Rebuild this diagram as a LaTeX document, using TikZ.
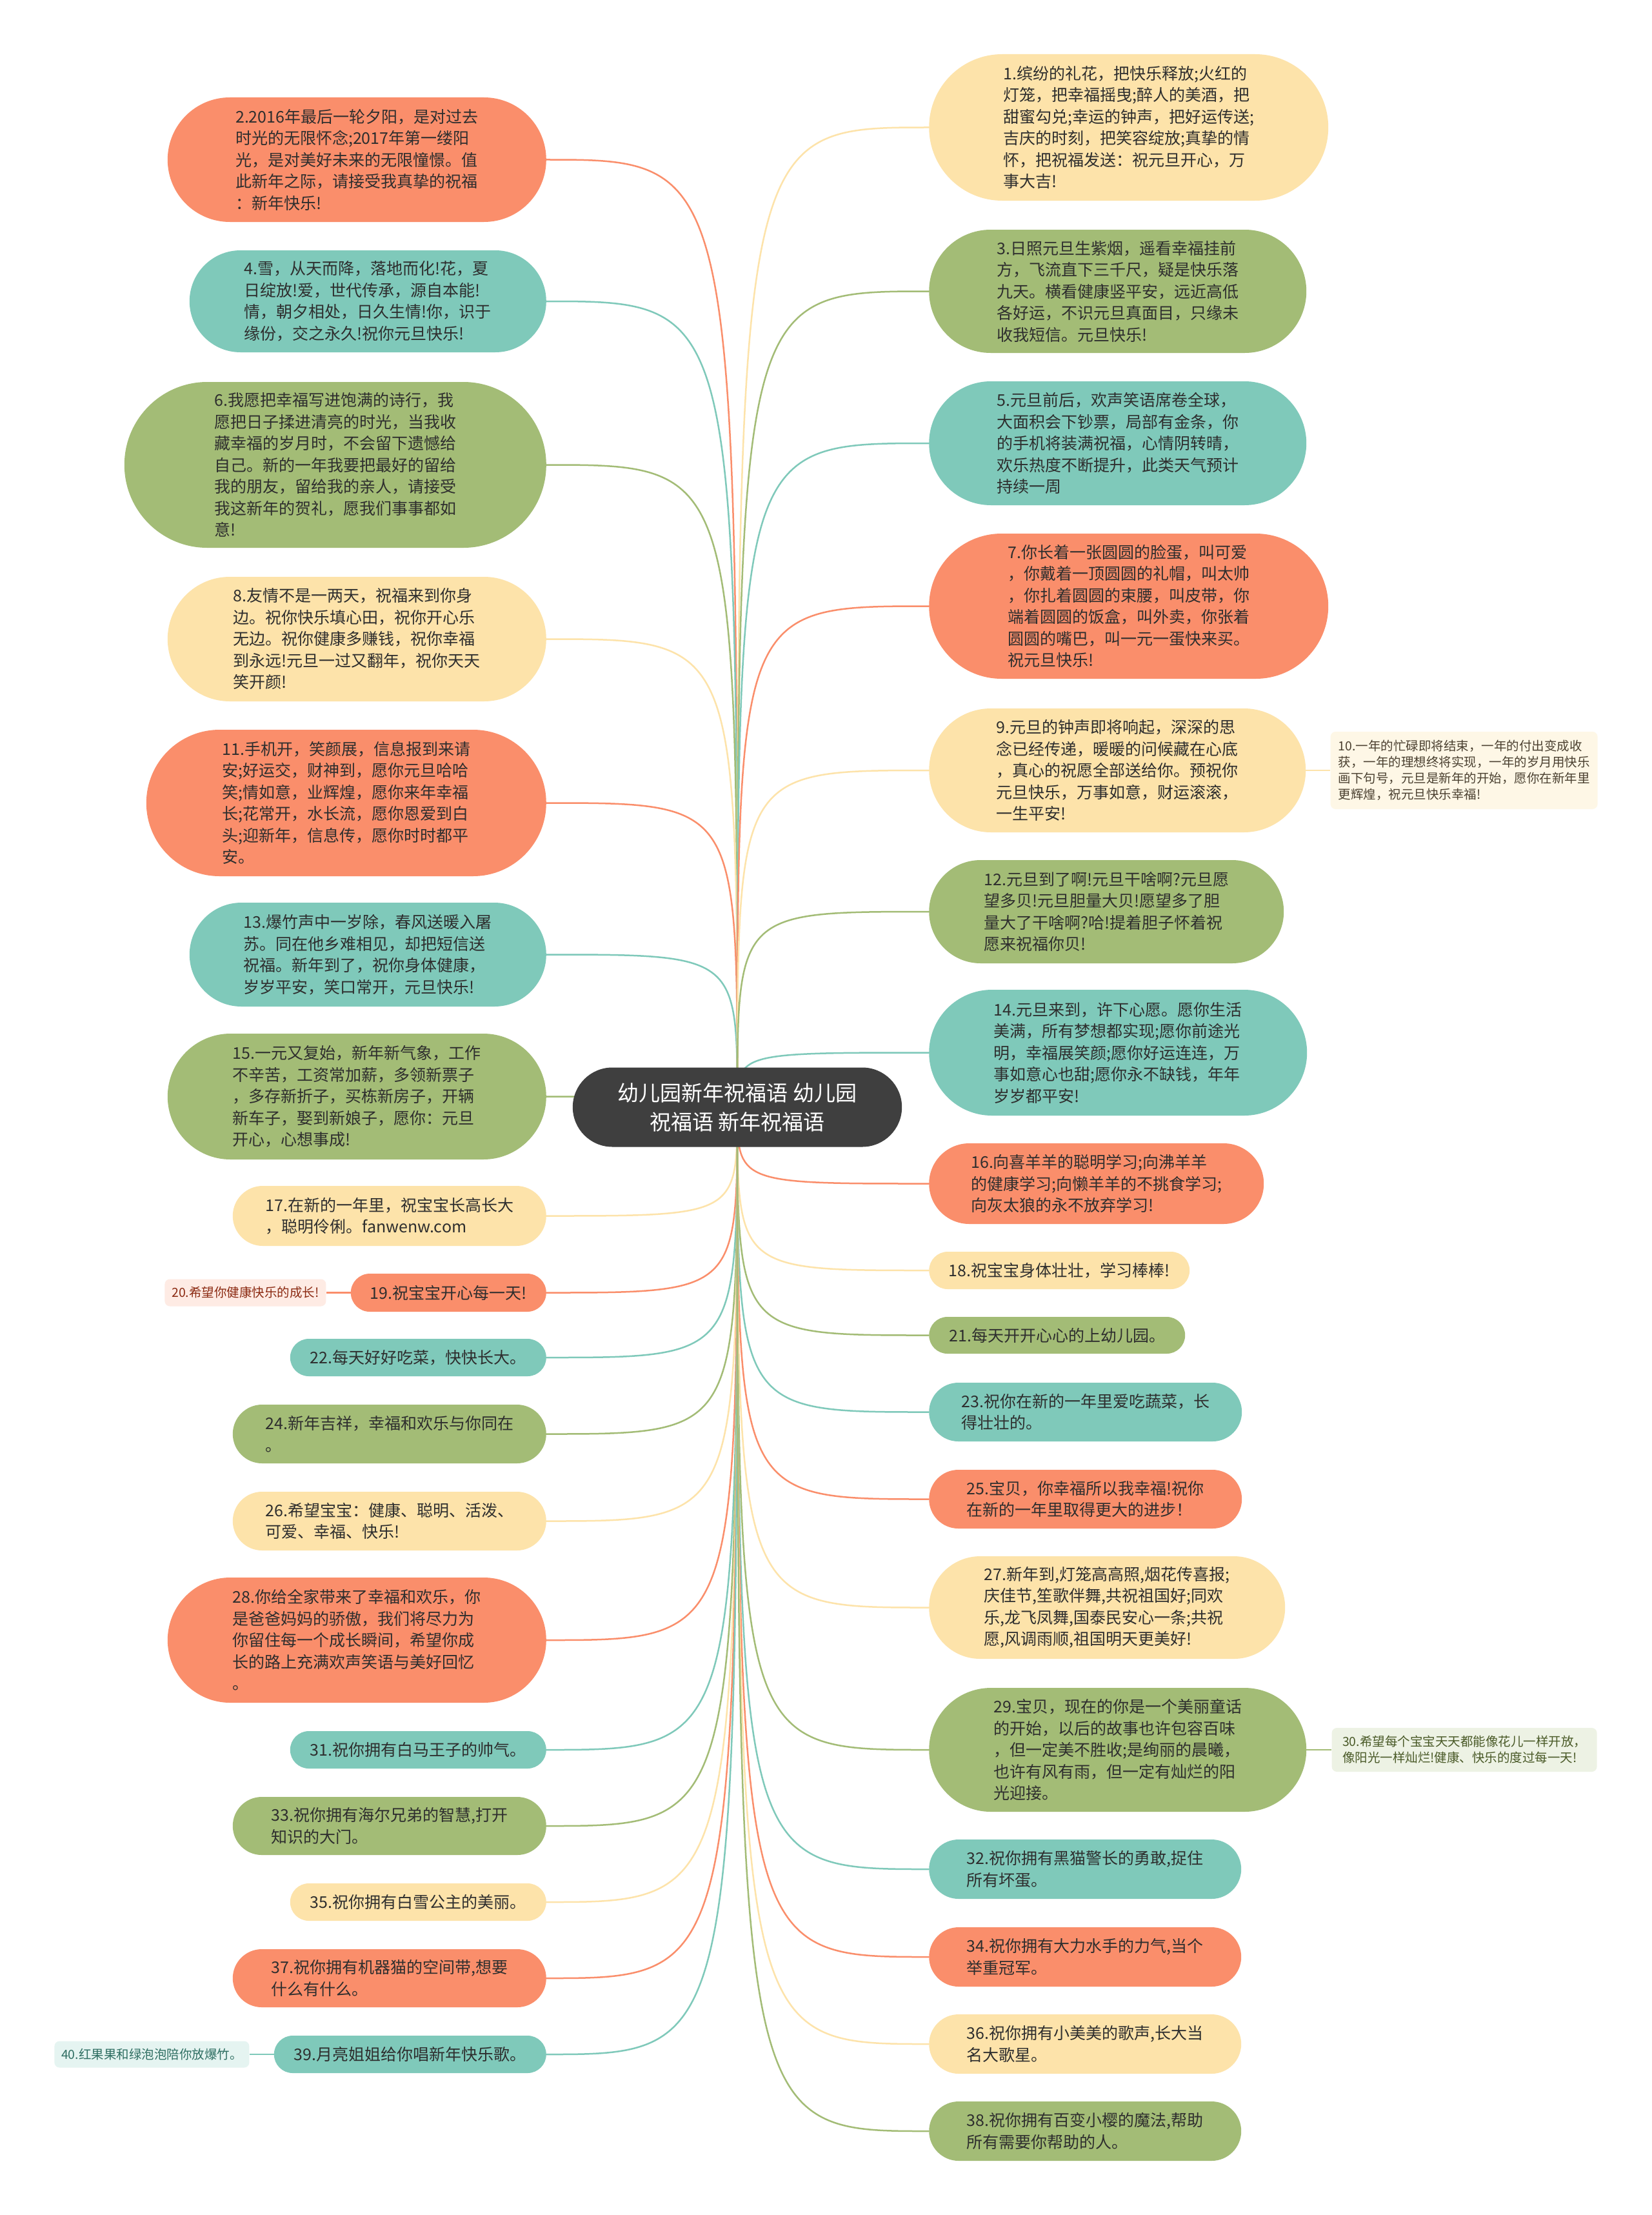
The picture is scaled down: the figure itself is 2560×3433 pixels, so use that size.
\documentclass[tikz,border=0pt]{standalone}
\usepackage{fontspec}
\setmainfont{Noto Sans CJK SC}
\usepackage{tikz}
\usetikzlibrary{positioning,shapes.misc}

\definecolor{corange}{HTML}{FA8E6B}
\definecolor{cteal}{HTML}{7FC9BA}
\definecolor{cgreen}{HTML}{A3BC76}
\definecolor{cyellow}{HTML}{FDE3AA}
\definecolor{croot}{HTML}{3F3F3F}
\definecolor{ink}{HTML}{2E2E2E}
\definecolor{inkorange}{HTML}{8B2A12}
\definecolor{inkteal}{HTML}{2E6E62}
\definecolor{inkyellow}{HTML}{4A4030}
\definecolor{inkgreen}{HTML}{4A5A28}

\pgfdeclarelayer{bg}
\pgfsetlayers{bg,main}

\begin{document}
\begin{tikzpicture}[
  x=1pt, y=-1pt,
  leaf/.style={rounded rectangle, align=left, inner xsep=0pt, inner ysep=0pt, text=ink, font=\fontsize{25}{33.5}\selectfont},
  lnode/.style={leaf, anchor=east},
  rnode/.style={leaf, anchor=west},
  note/.style={rectangle, rounded corners=8pt, align=left, inner xsep=10pt, inner ysep=0pt, font=\fontsize{19.5}{25}\selectfont},
  link/.style={line width=2.5pt}
]
  \useasboundingbox (0,0) rectangle (2560,3433);

  \node[rounded rectangle, fill=croot, draw=black!75, line width=1pt, text=white, align=center, minimum width=516pt, minimum height=122pt, font=\fontsize{33}{45}\selectfont] (root) at (1143,1716) {幼儿园新年祝福语 幼儿园\\祝福语 新年祝福语};

  % left side
  \node[lnode, fill=corange, minimum width=587pt, minimum height=193pt] (n2) at (847,247.5) {2.2016年最后一轮夕阳，是对过去\\时光的无限怀念;2017年第一缕阳\\光，是对美好未来的无限憧憬。值\\此新年之际，请接受我真挚的祝福\\：新年快乐!};
  \node[lnode, fill=cteal, minimum width=553pt, minimum height=158pt] (n4) at (847,467) {4.雪，从天而降，落地而化!花，夏\\日绽放!爱，世代传承，源自本能!\\情，朝夕相处，日久生情!你，识于\\缘份，交之永久!祝你元旦快乐!};
  \node[lnode, fill=cgreen, minimum width=654pt, minimum height=257pt] (n6) at (847,720.5) {6.我愿把幸福写进饱满的诗行，我\\愿把日子揉进清亮的时光，当我收\\藏幸福的岁月时，不会留下遗憾给\\自己。新的一年我要把最好的留给\\我的朋友，留给我的亲人，请接受\\我这新年的贺礼，愿我们事事都如\\意!};
  \node[lnode, fill=cyellow, minimum width=587pt, minimum height=193pt] (n8) at (847,990.5) {8.友情不是一两天，祝福来到你身\\边。祝你快乐填心田，祝你开心乐\\无边。祝你健康多赚钱，祝你幸福\\到永远!元旦一过又翻年，祝你天天\\笑开颜!};
  \node[lnode, fill=corange, minimum width=620pt, minimum height=227pt] (n11) at (847,1244.5) {11.手机开，笑颜展，信息报到来请\\安;好运交，财神到，愿你元旦哈哈\\笑;情如意，业辉煌，愿你来年幸福\\长;花常开，水长流，愿你恩爱到白\\头;迎新年，信息传，愿你时时都平\\安。};
  \node[lnode, fill=cteal, minimum width=553pt, minimum height=161pt] (n13) at (847,1479.5) {13.爆竹声中一岁除，春风送暖入屠\\苏。同在他乡难相见，却把短信送\\祝福。新年到了，祝你身体健康，\\岁岁平安，笑口常开，元旦快乐!};
  \node[lnode, fill=cgreen, minimum width=587pt, minimum height=195pt] (n15) at (847,1699.5) {15.一元又复始，新年新气象，工作\\不辛苦，工资常加薪，多领新票子\\，多存新折子，买栋新房子，开辆\\新车子，娶到新娘子，愿你：元旦\\开心，心想事成!};
  \node[lnode, fill=cyellow, minimum width=486pt, minimum height=93pt] (n17) at (847,1884.5) {17.在新的一年里，祝宝宝长高长大\\，聪明伶俐。fanwenw.com};
  \node[lnode, fill=corange, minimum width=303pt, minimum height=59pt] (n19) at (847,2003.5) {19.祝宝宝开心每一天!};
  \node[lnode, fill=cteal, minimum width=397pt, minimum height=58pt] (n22) at (847,2104) {22.每天好好吃菜，快快长大。};
  \node[lnode, fill=cgreen, minimum width=486pt, minimum height=91pt] (n24) at (847,2222.5) {24.新年吉祥，幸福和欢乐与你同在\\。};
  \node[lnode, fill=cyellow, minimum width=486pt, minimum height=91pt] (n26) at (847,2357.5) {26.希望宝宝：健康、聪明、活泼、\\可爱、幸福、快乐!};
  \node[lnode, fill=corange, minimum width=587pt, minimum height=194pt] (n28) at (847,2542) {28.你给全家带来了幸福和欢乐，你\\是爸爸妈妈的骄傲，我们将尽力为\\你留住每一个成长瞬间，希望你成\\长的路上充满欢声笑语与美好回忆\\。};
  \node[lnode, fill=cteal, minimum width=397pt, minimum height=58pt] (n31) at (847,2712) {31.祝你拥有白马王子的帅气。};
  \node[lnode, fill=cgreen, minimum width=486pt, minimum height=90pt] (n33) at (847,2830) {33.祝你拥有海尔兄弟的智慧,打开\\知识的大门。};
  \node[lnode, fill=cyellow, minimum width=397pt, minimum height=58pt] (n35) at (847,2948) {35.祝你拥有白雪公主的美丽。};
  \node[lnode, fill=corange, minimum width=486pt, minimum height=90pt] (n37) at (847,3066) {37.祝你拥有机器猫的空间带,想要\\什么有什么。};
  \node[lnode, fill=cteal, minimum width=422pt, minimum height=58pt] (n39) at (847,3184) {39.月亮姐姐给你唱新年快乐歌。};

  \node[note, fill=corange!18, text=inkorange, left=38pt of n19, minimum width=250pt, minimum height=42pt] (n20) {20.希望你健康快乐的成长!};
  \node[note, fill=cteal!20, text=inkteal, left=38pt of n39, minimum width=302pt, minimum height=41pt] (n40) {40.红果果和绿泡泡陪你放爆竹。};

  % right side
  \node[rnode, fill=cyellow, minimum width=619pt, minimum height=227pt] (n1) at (1440,197.5) {1.缤纷的礼花，把快乐释放;火红的\\灯笼，把幸福摇曳;醉人的美酒，把\\甜蜜勾兑;幸运的钟声，把好运传送;\\吉庆的时刻，把笑容绽放;真挚的情\\怀，把祝福发送：祝元旦开心，万\\事大吉!};
  \node[rnode, fill=cgreen, minimum width=585pt, minimum height=191pt] (n3) at (1440,451.5) {3.日照元旦生紫烟，遥看幸福挂前\\方，飞流直下三千尺，疑是快乐落\\九天。横看健康竖平安，远近高低\\各好运，不识元旦真面目，只缘未\\收我短信。元旦快乐!};
  \node[rnode, fill=cteal, minimum width=585pt, minimum height=192pt] (n5) at (1440,687) {5.元旦前后，欢声笑语席卷全球，\\大面积会下钞票，局部有金条，你\\的手机将装满祝福，心情阴转晴，\\欢乐热度不断提升，此类天气预计\\持续一周};
  \node[rnode, fill=corange, minimum width=619pt, minimum height=225pt] (n7) at (1440,939.5) {7.你长着一张圆圆的脸蛋，叫可爱\\，你戴着一顶圆圆的礼帽，叫太帅\\，你扎着圆圆的束腰，叫皮带，你\\端着圆圆的饭盒，叫外卖，你张着\\圆圆的嘴巴，叫一元一蛋快来买。\\祝元旦快乐!};
  \node[rnode, fill=cyellow, minimum width=584pt, minimum height=192pt] (n9) at (1440,1194) {9.元旦的钟声即将响起，深深的思\\念已经传递，暖暖的问候藏在心底\\，真心的祝愿全部送给你。预祝你\\元旦快乐，万事如意，财运滚滚，\\一生平安!};
  \node[rnode, fill=cgreen, minimum width=550pt, minimum height=160pt] (n12) at (1440,1413) {12.元旦到了啊!元旦干啥啊?元旦愿\\望多贝!元旦胆量大贝!愿望多了胆\\量大了干啥啊?哈!提着胆子怀着祝\\愿来祝福你贝!};
  \node[rnode, fill=cteal, minimum width=586pt, minimum height=195pt] (n14) at (1440,1631.5) {14.元旦来到，许下心愿。愿你生活\\美满，所有梦想都实现;愿你前途光\\明，幸福展笑颜;愿你好运连连，万\\事如意心也甜;愿你永不缺钱，年年\\岁岁都平安!};
  \node[rnode, fill=corange, minimum width=519pt, minimum height=125pt] (n16) at (1440,1834.5) {16.向喜羊羊的聪明学习;向沸羊羊\\的健康学习;向懒羊羊的不挑食学习;\\向灰太狼的永不放弃学习!};
  \node[rnode, fill=cyellow, minimum width=404pt, minimum height=58pt] (n18) at (1440,1969) {18.祝宝宝身体壮壮，学习棒棒!};
  \node[rnode, fill=cgreen, minimum width=397pt, minimum height=57pt] (n21) at (1440,2069.5) {21.每天开开心心的上幼儿园。};
  \node[rnode, fill=cteal, minimum width=485pt, minimum height=91pt] (n23) at (1440,2188.5) {23.祝你在新的一年里爱吃蔬菜，长\\得壮壮的。};
  \node[rnode, fill=corange, minimum width=485pt, minimum height=91pt] (n25) at (1440,2323.5) {25.宝贝，你幸福所以我幸福!祝你\\在新的一年里取得更大的进步！};
  \node[rnode, fill=cyellow, minimum width=552pt, minimum height=159pt] (n27) at (1440,2491.5) {27.新年到,灯笼高高照,烟花传喜报;\\庆佳节,笙歌伴舞,共祝祖国好;同欢\\乐,龙飞凤舞,国泰民安心一条;共祝\\愿,风调雨顺,祖国明天更美好!};
  \node[rnode, fill=cgreen, minimum width=585pt, minimum height=192pt] (n29) at (1440,2712) {29.宝贝，现在的你是一个美丽童话\\的开始，以后的故事也许包容百味\\，但一定美不胜收;是绚丽的晨曦，\\也许有风有雨，但一定有灿烂的阳\\光迎接。};
  \node[rnode, fill=cteal, minimum width=484pt, minimum height=92pt] (n32) at (1440,2897) {32.祝你拥有黑猫警长的勇敢,捉住\\所有坏蛋。};
  \node[rnode, fill=corange, minimum width=484pt, minimum height=92pt] (n34) at (1440,3033) {34.祝你拥有大力水手的力气,当个\\举重冠军。};
  \node[rnode, fill=cyellow, minimum width=484pt, minimum height=92pt] (n36) at (1440,3168) {36.祝你拥有小美美的歌声,长大当\\名大歌星。};
  \node[rnode, fill=cgreen, minimum width=484pt, minimum height=92pt] (n38) at (1440,3303) {38.祝你拥有百变小樱的魔法,帮助\\所有需要你帮助的人。};

  \node[note, fill=cyellow!30, text=inkyellow, right=38pt of n9, minimum width=414pt, minimum height=120pt] (n10) {10.一年的忙碌即将结束，一年的付出变成收\\获，一年的理想终将实现，一年的岁月用快乐\\画下句号，元旦是新年的开始，愿你在新年里\\更辉煌，祝元旦快乐幸福!};
  \node[note, fill=cgreen!20, text=inkgreen, right=39pt of n29, minimum width=411pt, minimum height=68pt] (n30) {30.希望每个宝宝天天都能像花儿一样开放，\\像阳光一样灿烂!健康、快乐的度过每一天!};

  \begin{pgfonlayer}{bg}
    \fill[white] (0,0) rectangle (2560,3433);
    \draw[link, corange] (root.center) .. controls (root.center |- n2.east) .. (n2.east);
    \draw[link, cteal] (root.center) .. controls (root.center |- n4.east) .. (n4.east);
    \draw[link, cgreen] (root.center) .. controls (root.center |- n6.east) .. (n6.east);
    \draw[link, cyellow] (root.center) .. controls (root.center |- n8.east) .. (n8.east);
    \draw[link, corange] (root.center) .. controls (root.center |- n11.east) .. (n11.east);
    \draw[link, cteal] (root.center) .. controls (root.center |- n13.east) .. (n13.east);
    \draw[link, cgreen] (root.center) .. controls (root.center |- n15.east) .. (n15.east);
    \draw[link, cyellow] (root.center) .. controls (root.center |- n17.east) .. (n17.east);
    \draw[link, corange] (root.center) .. controls (root.center |- n19.east) .. (n19.east);
    \draw[link, cteal] (root.center) .. controls (root.center |- n22.east) .. (n22.east);
    \draw[link, cgreen] (root.center) .. controls (root.center |- n24.east) .. (n24.east);
    \draw[link, cyellow] (root.center) .. controls (root.center |- n26.east) .. (n26.east);
    \draw[link, corange] (root.center) .. controls (root.center |- n28.east) .. (n28.east);
    \draw[link, cteal] (root.center) .. controls (root.center |- n31.east) .. (n31.east);
    \draw[link, cgreen] (root.center) .. controls (root.center |- n33.east) .. (n33.east);
    \draw[link, cyellow] (root.center) .. controls (root.center |- n35.east) .. (n35.east);
    \draw[link, corange] (root.center) .. controls (root.center |- n37.east) .. (n37.east);
    \draw[link, cteal] (root.center) .. controls (root.center |- n39.east) .. (n39.east);
    \draw[link, cyellow] (root.center) .. controls (root.center |- n1.west) .. (n1.west);
    \draw[link, cgreen] (root.center) .. controls (root.center |- n3.west) .. (n3.west);
    \draw[link, cteal] (root.center) .. controls (root.center |- n5.west) .. (n5.west);
    \draw[link, corange] (root.center) .. controls (root.center |- n7.west) .. (n7.west);
    \draw[link, cyellow] (root.center) .. controls (root.center |- n9.west) .. (n9.west);
    \draw[link, cgreen] (root.center) .. controls (root.center |- n12.west) .. (n12.west);
    \draw[link, cteal] (root.center) .. controls (root.center |- n14.west) .. (n14.west);
    \draw[link, corange] (root.center) .. controls (root.center |- n16.west) .. (n16.west);
    \draw[link, cyellow] (root.center) .. controls (root.center |- n18.west) .. (n18.west);
    \draw[link, cgreen] (root.center) .. controls (root.center |- n21.west) .. (n21.west);
    \draw[link, cteal] (root.center) .. controls (root.center |- n23.west) .. (n23.west);
    \draw[link, corange] (root.center) .. controls (root.center |- n25.west) .. (n25.west);
    \draw[link, cyellow] (root.center) .. controls (root.center |- n27.west) .. (n27.west);
    \draw[link, cgreen] (root.center) .. controls (root.center |- n29.west) .. (n29.west);
    \draw[link, cteal] (root.center) .. controls (root.center |- n32.west) .. (n32.west);
    \draw[link, corange] (root.center) .. controls (root.center |- n34.west) .. (n34.west);
    \draw[link, cyellow] (root.center) .. controls (root.center |- n36.west) .. (n36.west);
    \draw[link, cgreen] (root.center) .. controls (root.center |- n38.west) .. (n38.west);
    \draw[link, corange] (n19.west) -- (n20.east);
    \draw[link, cteal] (n39.west) -- (n40.east);
    \draw[link, cyellow] (n9.east) -- (n10.west);
    \draw[link, cgreen] (n29.east) -- (n30.west);
  \end{pgfonlayer}
\end{tikzpicture}
\end{document}
